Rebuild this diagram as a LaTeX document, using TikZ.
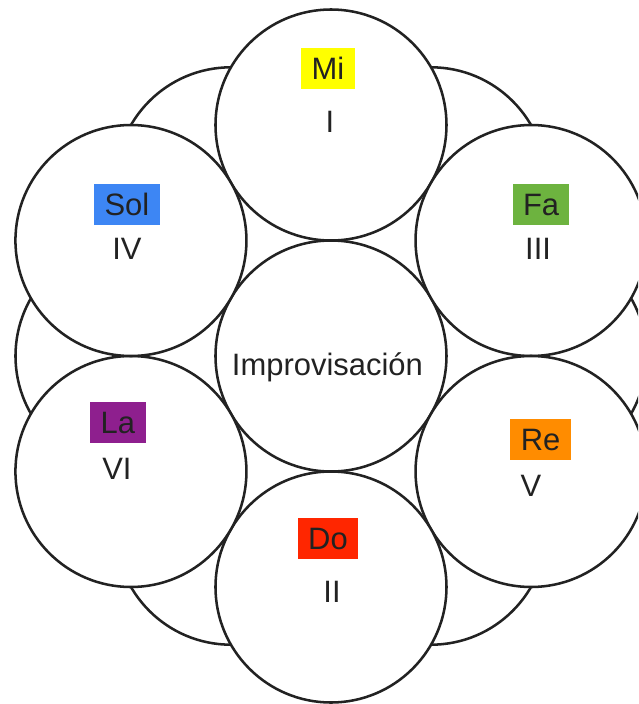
\documentclass[tikz,border=0pt]{standalone}
\usepackage{fontspec}
\setmainfont{Liberation Sans}
\usetikzlibrary{positioning,calc}

\definecolor{lineclr}{HTML}{222222}
\definecolor{txtclr}{HTML}{222222}
\definecolor{miclr}{HTML}{FFFF00}
\definecolor{faclr}{HTML}{6DB33F}
\definecolor{reclr}{HTML}{FF8C00}
\definecolor{doclr}{HTML}{FF2600}
\definecolor{laclr}{HTML}{8E1F8E}
\definecolor{solclr}{HTML}{3D86F4}

\tikzset{
  circ/.style={draw=lineclr,fill=white,line width=1.8pt},
  notebox/.style={text=txtclr,inner xsep=0.26cm,text height=0.56cm,text depth=0cm,
    minimum height=1.03cm,font=\fontsize{22}{26}\selectfont},
  numlabel/.style={text=txtclr,inner sep=0pt,font=\fontsize{22}{26}\selectfont}
}

\begin{document}
\begin{tikzpicture}
  \clip (-8.275,-8.7) rectangle (7.675,8.9);
  \useasboundingbox (-8.275,-8.7) rectangle (7.675,8.9);

  \coordinate (O) at (0,0);
  \coordinate (Mi) at (90:5.775);
  \coordinate (Fa) at (30:5.775);
  \coordinate (Re) at (-30:5.775);
  \coordinate (Do) at (-90:5.775);
  \coordinate (La) at (210:5.775);
  \coordinate (Sol) at (150:5.775);

  % circles in the back
  \filldraw[circ] (0:5) circle (2.8875);
  \filldraw[circ] (60:5) circle (2.8875);
  \filldraw[circ] (120:5) circle (2.8875);
  \filldraw[circ] (180:5) circle (2.8875);
  \filldraw[circ] (240:5) circle (2.8875);
  \filldraw[circ] (300:5) circle (2.8875);

  % front circles
  \filldraw[circ] (O) circle (2.8875);
  \filldraw[circ] (Mi) circle (2.8875);
  \filldraw[circ] (Fa) circle (2.8875);
  \filldraw[circ] (Re) circle (2.8875);
  \filldraw[circ] (Do) circle (2.8875);
  \filldraw[circ] (La) circle (2.8875);
  \filldraw[circ] (Sol) circle (2.8875);

  \node[numlabel,anchor=base] (impro) at ($(O)+(-0.09,-0.475)$) {Improvisación};

  \node[notebox,fill=miclr] (miname) at ($(Mi)+(-0.075,1.41)$) {Mi};
  \node[numlabel] (minum) at ($(Mi)+(-0.025,0.075)$) {I};

  \node[notebox,fill=solclr] (solname) at ($(Sol)+(-0.1,0.91)$) {Sol};
  \node[numlabel] (solnum) at ($(Sol)+(-0.1,-0.2)$) {IV};

  \node[notebox,fill=faclr] (faname) at ($(Fa)+(0.25,0.91)$) {Fa};
  \node[numlabel] (fanum) at ($(Fa)+(0.175,-0.2)$) {III};

  \node[notebox,fill=laclr] (laname) at ($(La)+(-0.325,1.225)$) {La};
  \node[numlabel] (lanum) at ($(La)+(-0.35,0.075)$) {VI};

  \node[notebox,fill=reclr] (rename) at ($(Re)+(0.24,0.81)$) {Re};
  \node[numlabel] (renum) at ($(Re)+(0,-0.35)$) {V};

  \node[notebox,fill=doclr] (doname) at ($(Do)+(-0.075,1.21)$) {Do};
  \node[numlabel] (donum) at ($(Do)+(0.025,-0.125)$) {II};
\end{tikzpicture}
\end{document}
